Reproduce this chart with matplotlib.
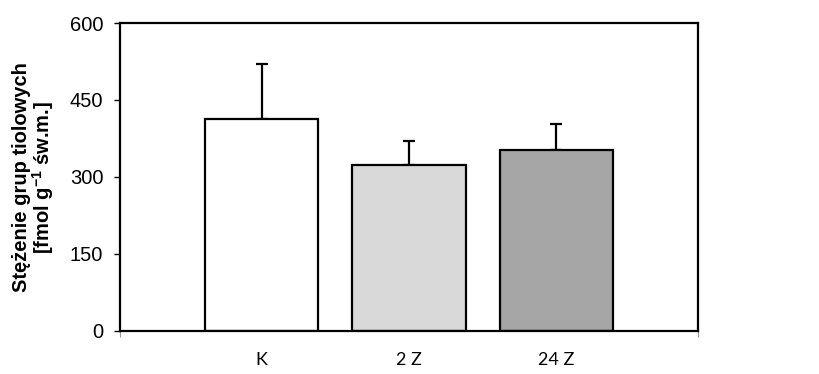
import matplotlib
matplotlib.use("Agg")
import matplotlib.pyplot as plt
from matplotlib.ticker import FixedLocator

plt.rcParams['font.family'] = ['Liberation Sans', 'DejaVu Sans']
plt.rcParams['mathtext.fontset'] = 'custom'
plt.rcParams['mathtext.rm'] = 'Liberation Sans:bold'
plt.rcParams['mathtext.bf'] = 'Liberation Sans:bold'
plt.rcParams['mathtext.default'] = 'bf'

# data
groups = ['K', '2 Z', '24 Z']
means = [413, 323, 353]
errors = [107, 48, 51]
colors = ['#ffffff', '#d9d9d9', '#a6a6a6']
yticks = [0, 150, 300, 450, 600]

fig = plt.figure(figsize=(8.2, 3.74), dpi=100)
ax = fig.add_axes([0.1463, 0.115, 0.705, 0.8235])

x = range(len(groups))
ax.bar(x, means, width=0.77, color=colors, edgecolor='black', linewidth=1.6,
       zorder=2)
ax.errorbar(x, means, yerr=[[0] * len(errors), errors], fmt='none',
            ecolor='black', elinewidth=1.6, capsize=4, capthick=1.6, zorder=1)

ax.set_xlim(-0.96, 2.96)
ax.set_ylim(0, 600)
ax.set_yticks(yticks)
ax.tick_params(axis='y', direction='out', length=4, width=1, labelsize=14.5,
               pad=8)

ax.set_xticks(list(x))
ax.set_xticklabels(groups, family=['Lato', 'DejaVu Sans'], fontsize=13)
ax.tick_params(axis='x', which='major', length=0, pad=15)
ax.xaxis.set_minor_locator(FixedLocator([-0.96, 2.96]))
ax.tick_params(axis='x', which='minor', direction='out', length=4, width=0.8,
               color='#999999')

for s in ax.spines.values():
    s.set_linewidth(1.6)

ax.set_ylabel('Stężenie grup tiolowych\n[fmol g$^{-1}$ św.m.]',
              fontsize=14.5, fontweight='bold', linespacing=0.95, labelpad=10)

fig.savefig('out.png', dpi=100)
